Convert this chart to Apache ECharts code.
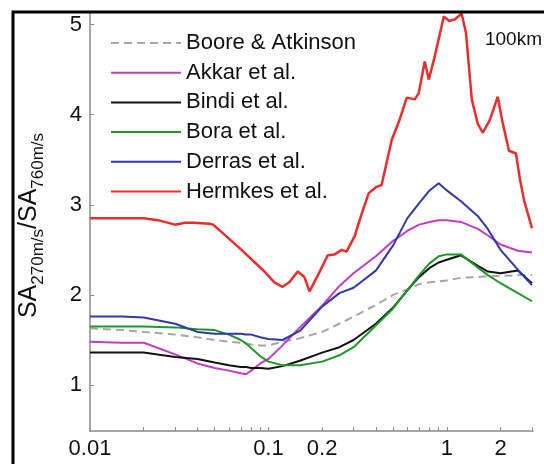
<!DOCTYPE html>
<html>
<head>
<meta charset="utf-8">
<script src="https://cdn.jsdelivr.net/npm/echarts@6/dist/echarts.min.js"></script>
<style>
  html, body { margin: 0; padding: 0; background: #fff; }
  #chart { width: 544px; height: 464px; }
</style>
</head>
<body>
<div id="chart"></div>
<script>
// spectral period (s) shared by the smooth curves
const periods = [0.01, 0.015, 0.02, 0.03, 0.04, 0.05, 0.06, 0.07, 0.075, 0.08, 0.09, 0.1, 0.12, 0.15,
    0.2, 0.25, 0.3, 0.4, 0.5, 0.6, 0.7, 0.8, 0.9, 1.0, 1.2, 1.5, 1.7, 2, 2.5, 3];

const boore = [1.63, 1.61, 1.59, 1.56, 1.53, 1.50, 1.48, 1.47, 1.46, 1.45, 1.44, 1.44, 1.48, 1.52,
    1.59, 1.68, 1.76, 1.89, 2.00, 2.06, 2.12, 2.14, 2.15, 2.16, 2.19, 2.20, 2.21, 2.21, 2.22, 2.22];
const akkar = [1.48, 1.47, 1.47, 1.34, 1.24, 1.19, 1.16, 1.13, 1.12, 1.16, 1.24, 1.29, 1.44, 1.64,
    1.88, 2.10, 2.24, 2.43, 2.60, 2.71, 2.78, 2.81, 2.83, 2.83, 2.81, 2.73, 2.66, 2.56, 2.49, 2.47];
const bindi = [1.36, 1.36, 1.36, 1.31, 1.29, 1.25, 1.22, 1.20, 1.20, 1.19, 1.19, 1.18, 1.21, 1.27,
    1.36, 1.42, 1.50, 1.68, 1.86, 2.05, 2.20, 2.30, 2.36, 2.39, 2.44, 2.32, 2.26, 2.24, 2.27, 2.13];
const bora = [1.65, 1.65, 1.65, 1.64, 1.62, 1.61, 1.56, 1.50, 1.46, 1.41, 1.32, 1.26, 1.22, 1.22,
    1.26, 1.33, 1.42, 1.66, 1.85, 2.05, 2.22, 2.35, 2.43, 2.45, 2.45, 2.30, 2.22, 2.13, 2.02, 1.93];
const derras = [1.76, 1.76, 1.75, 1.68, 1.59, 1.57, 1.57, 1.57, 1.56, 1.56, 1.53, 1.51, 1.50, 1.60,
    1.87, 2.02, 2.08, 2.27, 2.55, 2.85, 3.02, 3.16, 3.24, 3.16, 3.04, 2.87, 2.73, 2.50, 2.28, 2.11];

// Hermkes is jagged, so it has its own periods
const hermkesPeriods = [0.01, 0.02, 0.024, 0.03, 0.034, 0.038, 0.047, 0.049, 0.069, 0.095,
    0.108, 0.12, 0.131, 0.146, 0.159, 0.17, 0.193, 0.215, 0.235, 0.257,
    0.274, 0.304, 0.333, 0.365, 0.404, 0.431, 0.491, 0.545, 0.596, 0.661,
    0.696, 0.752, 0.792, 0.856, 0.962, 1.03, 1.11, 1.21, 1.28, 1.38,
    1.49, 1.59, 1.74, 1.93, 2.04, 2.23, 2.44, 2.57, 2.71, 3.0];
const hermkes = [2.85, 2.85, 2.83, 2.78, 2.80, 2.80, 2.79, 2.78, 2.52, 2.26,
    2.14, 2.09, 2.14, 2.26, 2.20, 2.04, 2.25, 2.44, 2.45, 2.50,
    2.48, 2.65, 2.90, 3.13, 3.20, 3.22, 3.72, 3.95, 4.19, 4.17,
    4.24, 4.59, 4.39, 4.65, 5.09, 5.04, 5.06, 5.12, 4.91, 4.17,
    3.90, 3.80, 3.94, 4.20, 3.94, 3.60, 3.57, 3.28, 3.05, 2.74];

const xLabels = [0.01, 0.1, 0.2, 1, 2];
const xTicks = [0.02, 0.03, 0.04, 0.05, 0.06, 0.07, 0.08, 0.09, 0.1,
    0.2, 0.3, 0.4, 0.5, 0.6, 0.7, 0.8, 0.9, 1, 2, 3];
const yLabels = [1, 2, 3, 4, 5];

const font = 'Liberation Sans, Arial, sans-serif';
const axisGrey = '#8a8a8a';

function pairs(xs, ys) {
    return xs.map(function (x, i) { return [x, ys[i]]; });
}

function line(name, xs, ys, color, type, width) {
    return {
        name: name,
        type: 'line',
        data: pairs(xs, ys),
        symbol: 'none',
        showSymbol: false,
        lineStyle: { color: color, width: width || 2, type: type || 'solid' },
        itemStyle: { color: color }
    };
}

const chart = echarts.init(document.getElementById('chart'));

const option = {
    animation: false,
    backgroundColor: '#fff',
    title: {
        text: '100km',
        right: 2,
        top: 30,
        padding: 0,
        textStyle: { fontFamily: font, fontSize: 19, fontWeight: 'normal', color: '#111' }
    },
    legend: {
        orient: 'vertical',
        left: 105,
        top: 27,
        itemWidth: 70,
        itemHeight: 14,
        itemGap: 7.7,
        itemStyle: { opacity: 0 },
        textStyle: { fontFamily: font, fontSize: 22, color: '#111', lineHeight: 22 },
        data: ['Boore & Atkinson', 'Akkar et al.', 'Bindi et al.', 'Bora et al.', 'Derras et al.', 'Hermkes et al.']
    },
    grid: { left: 90, right: 11, top: 12, bottom: 33 },
    xAxis: {
        type: 'log',
        logBase: 10,
        min: 0.01,
        max: 3.04,
        axisLine: { lineStyle: { color: axisGrey, width: 1.5 } },
        axisTick: { inside: true, length: 4, customValues: xTicks, lineStyle: { color: axisGrey } },
        minorTick: { show: false },
        splitLine: { show: false },
        axisLabel: {
            customValues: xLabels,
            margin: 7,
            fontFamily: font,
            fontSize: 22,
            color: '#111',
            formatter: function (v) { return String(+(+v).toPrecision(3)); }
        }
    },
    yAxis: {
        type: 'value',
        min: 0.49,
        max: 5.14,
        name: '{b|SA}{s|270m/s}{b|/SA}{s|760m/s}',
        nameLocation: 'middle',
        nameGap: 43,
        nameTextStyle: {
            padding: [0, 8, 0, 0],
            rich: {
                b: { fontFamily: font, fontSize: 25, lineHeight: 30, verticalAlign: 'top', color: '#111' },
                s: { fontFamily: font, fontSize: 17, lineHeight: 17, verticalAlign: 'bottom', color: '#111' }
            }
        },
        axisLine: { show: true, lineStyle: { color: axisGrey, width: 1.5 } },
        axisTick: { show: true, inside: true, length: 4, customValues: yLabels, lineStyle: { color: axisGrey } },
        splitLine: { show: false },
        axisLabel: {
            customValues: yLabels,
            margin: 8,
            fontFamily: font,
            fontSize: 22,
            color: '#111'
        }
    },
    graphic: [{
        type: 'rect',
        silent: true,
        shape: { x: 13, y: 12, width: 640, height: 600 },
        style: { fill: 'none', stroke: '#000', lineWidth: 3 },
        z: 100
    }],
    series: [
        line('Boore & Atkinson', periods, boore, '#a6a6a6', [8, 5]),
        line('Akkar et al.', periods, akkar, '#c23cc2'),
        line('Bindi et al.', periods, bindi, '#111111'),
        line('Bora et al.', periods, bora, '#1f962a'),
        line('Derras et al.', periods, derras, '#2f3aa8'),
        line('Hermkes et al.', hermkesPeriods, hermkes, '#ea2c2c', null, 2.5)
    ]
};

option && chart.setOption(option);
</script>
</body>
</html>
